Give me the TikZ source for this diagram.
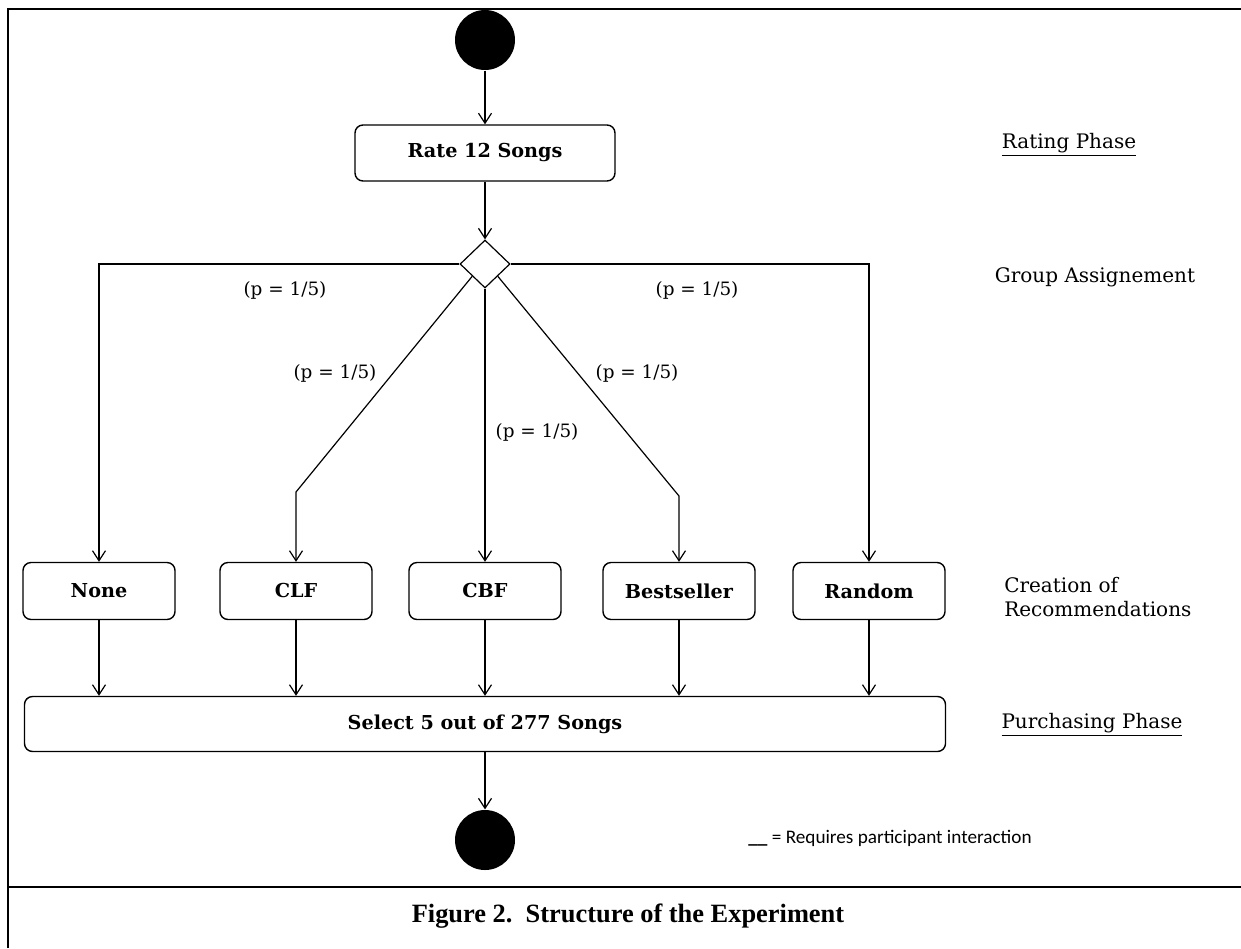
\documentclass[tikz,border=0pt]{standalone}
\usepackage{fontspec}
\setmainfont{DejaVu Serif}
\newfontfamily\capfont{Liberation Serif}
\newfontfamily\legfont{Carlito}
\usepackage{tikz}
\usetikzlibrary{arrows.meta,shapes.geometric,positioning}

\begin{document}
\begin{tikzpicture}[x=0.5pt,y=-0.5pt,
    >={Straight Barb[length=5pt,width=6.5pt]},
    every path/.style={line width=0.6pt},
    act/.style={draw,rounded corners=4pt,line width=0.7pt,minimum width=76pt,minimum height=28.5pt,
      font=\fontsize{9.6}{11}\selectfont\bfseries},
    dot/.style={circle,fill=black,inner sep=0pt,minimum size=30pt},
    choice/.style={diamond,draw,inner sep=0pt,minimum width=25pt,minimum height=24pt},
    prob/.style={font=\fontsize{9.2}{11}\selectfont},
    phase/.style={font=\fontsize{10}{12}\selectfont}]
    \useasboundingbox (0,0) rectangle (1241,948);
    %frame
    \draw[line width=1.3pt] (8,948) -- (8,9) -- (1241,9);
    \draw[line width=1.3pt] (8,887) -- (1241,887);
    %states
    \node[dot] (start) at (485,40) {};
    \node[act,minimum width=130pt,minimum height=28pt] (rate) at (485,153) {Rate 12 Songs};
    \node[choice] (dec) at (485,264) {};
    \node[act] (none) at (99,591) {None};
    \node[act] (clf) at (296,591) {CLF};
    \node[act] (cbf) at (485,591) {CBF};
    \node[act] (best) at (679,591) {Bestseller};
    \node[act] (rand) at (869,591) {Random};
    \node[act,minimum width=460.5pt,minimum height=27.5pt] (sel) at (485,724) {Select 5 out of 277 Songs};
    \node[dot] (end) at (485,840) {};
    \coordinate (clfbend) at (296,492);
    \coordinate (bestbend) at (679,496);
    %probabilities
    \node[prob] (p1) at (285,290) {(p = 1/5)};
    \node[prob] (p2) at (335,373) {(p = 1/5)};
    \node[prob] (p3) at (537,432) {(p = 1/5)};
    \node[prob] (p4) at (637,373) {(p = 1/5)};
    \node[prob] (p5) at (697,290) {(p = 1/5)};
    %phases
    \node[phase] (rating) at (1069,145) {\underline{Rating Phase}};
    \node[phase] (group) at (1095,277) {Group Assignement};
    \node[phase,anchor=west,align=left] (creation) at (997,597) {Creation of\\Recommendations};
    \node[phase] (purch) at (1092,725) {\underline{Purchasing Phase}};
    \node[font=\legfont\fontsize{9.6}{11}\selectfont] (legend) at (890,838) {\textbf{\_\_} = Requires participant interaction};
    \node[font=\capfont\fontsize{13.2}{15}\selectfont\bfseries] (caption) at (628,916) {Figure 2.\ \ Structure of the Experiment};
    %edges
    \path[->]
     (start) edge (rate)
     (rate) edge (dec)
     (dec) edge (cbf)
     (none) edge (none.south |- sel.north)
     (clf) edge (clf.south |- sel.north)
     (cbf) edge (cbf.south |- sel.north)
     (best) edge (best.south |- sel.north)
     (rand) edge (rand.south |- sel.north)
     (sel) edge (end);
    \draw[->] (dec.west) -| (none);
    \draw[->] (dec.east) -| (rand);
    \draw[->] (dec.south west) -- (clfbend) -- (clf);
    \draw[->] (dec.south east) -- (bestbend) -- (best);
\end{tikzpicture}
\end{document}
